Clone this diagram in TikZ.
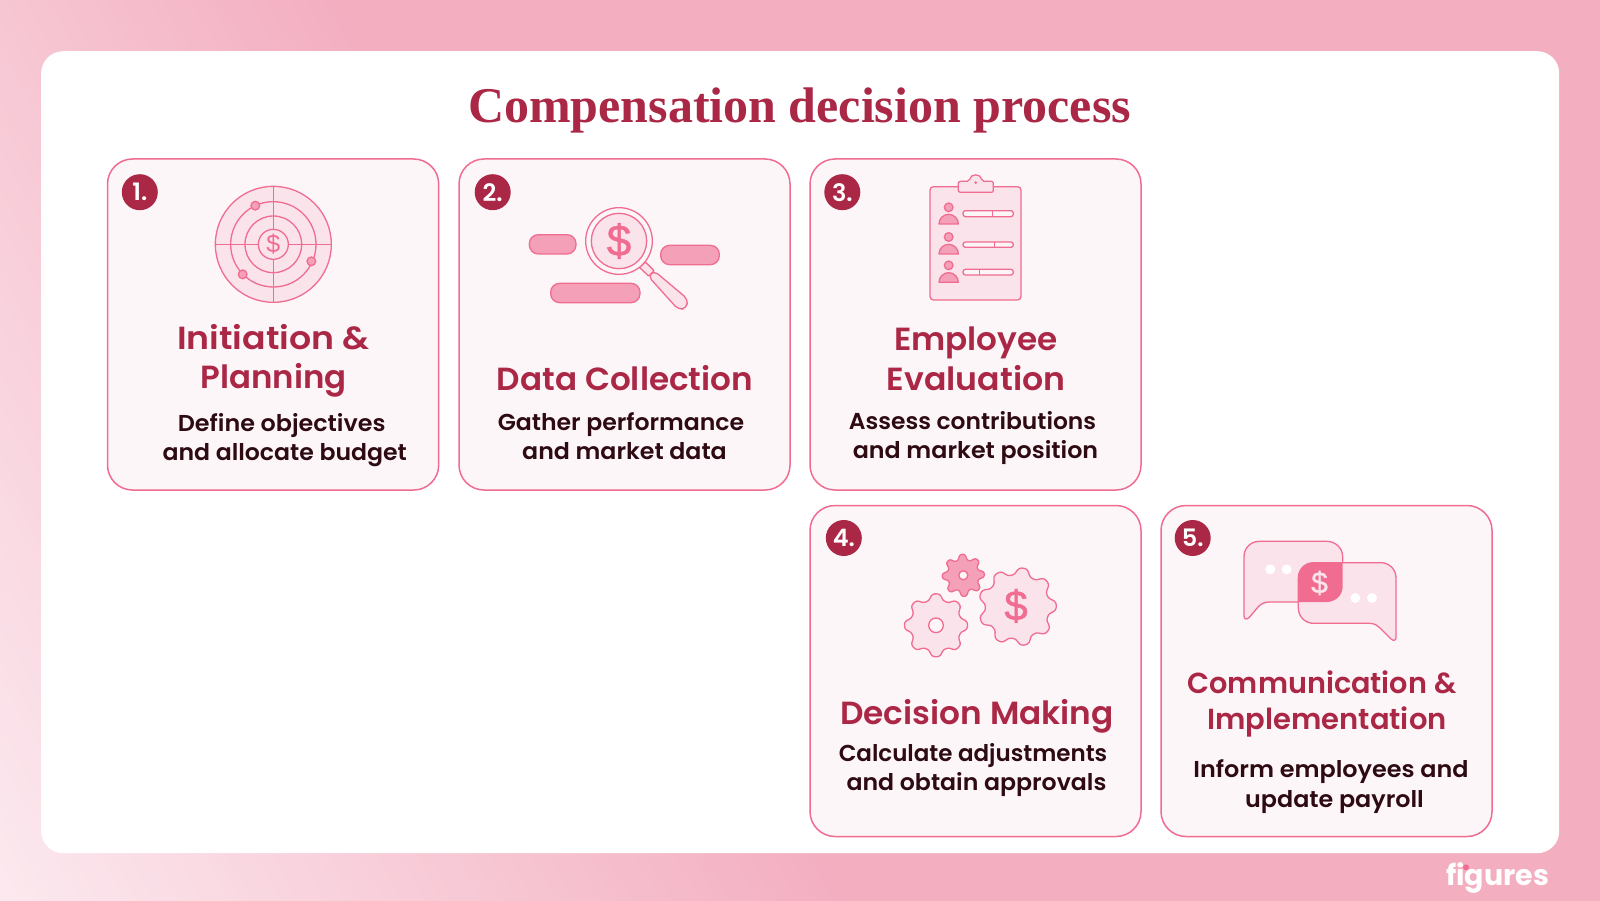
\documentclass[tikz,border=0pt]{standalone}
\usepackage{graphicx}
\usepackage{fontspec}
\setmainfont{Poppins SemiBold}
\newfontfamily\popb{Poppins}[BoldFont={Poppins Bold}]
\newfontfamily\serifb{Liberation Serif}
\newfontfamily\dollar{Liberation Sans}[FakeBold=1]
\newfontfamily\dollarthin{Liberation Sans}
\definecolor{cstroke}{HTML}{F06C90}
\definecolor{cfillA}{HTML}{FAE3EA}
\definecolor{cfillB}{HTML}{F3A0B8}
\definecolor{ccard}{HTML}{FDF6F9}
\definecolor{cred}{HTML}{AB2746}
\definecolor{cdark}{HTML}{2E0A12}
\definecolor{bgA}{HTML}{F3AEC0}
\definecolor{bgB}{HTML}{FCE9EF}
\tikzset{
  x=1pt,y=-1pt,
  card/.style={draw=cstroke,fill=ccard,line width=1.5pt,rounded corners=25pt},
  ic/.style={draw=cstroke,line width=1.3pt,line join=round},
  badge/.style={circle,fill=cred,minimum size=36pt,inner sep=0pt,text=white,font=\fontsize{24}{24}\selectfont},
  ttl/.style={anchor=base,text=cred,inner sep=0pt,font=\fontsize{32}{32}\selectfont},
  dsc/.style={anchor=base,text=cdark,inner sep=0pt,font=\fontsize{23}{23}\selectfont},
  dol/.style={text=cstroke,inner sep=0pt},
}
\newcommand{\sx}[2]{\scalebox{#1}[1]{#2}}
\newcommand{\gear}[7]{% cx cy R A n phase style
  \draw[#7] plot[smooth cycle,samples=121,domain=0:357] ({#1+(#3+#4*tanh(1.4*cos(#5*\x+#6))/tanh(1.4))*cos(\x)},{#2+(#3+#4*tanh(1.4*cos(#5*\x+#6))/tanh(1.4))*sin(\x)});
}
\begin{document}
\begin{tikzpicture}
\useasboundingbox (0,0) rectangle (1600,901);
% background
\clip (0,0) rectangle (1600,901);
\fill[bgA] (0,0) rectangle (1600,901);
\begin{scope}[shift={(0,901)},rotate=29.5]
  \foreach \i in {147,146,...,0}{
    \pgfmathsetmacro{\pp}{100*(1-\i/148)}
    \pgfmathsetmacro{\tt}{5*(\i+1)}
    \fill[bgB!\pp!bgA] (-1500,-3000) rectangle (\tt,3000);
  }
\end{scope}
\node[name=panel,draw=none,fill=white,rounded corners=22pt,minimum width=1518pt,minimum height=802pt,anchor=north west,inner sep=0pt] at (41,51) {};
\node[name=title,anchor=base,inner sep=0pt,text=cred,font=\serifb\bfseries\fontsize{50}{50}\selectfont] at (799.5,123) {Compensation decision process};
% cards
\foreach \n/\a/\b/\c/\d in {c1/107.5/159/438.7/490,c2/459/159/790/490,c3/810/159/1141/490,c4/810/505.5/1141/836.5,c5/1161/505.5/1492/836.5}{
  \draw[card] (\a,\b) rectangle (\c,\d);
}
% badges
\node[badge] (b1) at (139.8,192.2) {1.};
\node[badge] (b2) at (492.7,192.2) {2.};
\node[badge] (b3) at (842.3,192.2) {3.};
\node[badge] (b4) at (843.8,538) {4.};
\node[badge] (b5) at (1192.7,538) {5.};
% icon 1
\begin{scope}[shift={(100,150)},scale=0.33333]
  \draw[ic,fill=cfillA] (520,283) circle[radius=174];
  \draw[ic] (520,283) circle[radius=128];
  \draw[ic] (520,283) circle[radius=85];
  \draw[ic,fill=cfillA] (520,283) circle[radius=45];
  \draw[ic] (346,283) -- (475,283) (565,283) -- (694,283) (520,109) -- (520,238) (520,328) -- (520,457);
  \draw[ic,fill=cfillB] (466,167) circle[radius=13] (634,334) circle[radius=13] (428,373) circle[radius=13];
\end{scope}
\node[dol,font=\dollarthin\fontsize{25}{25}\selectfont] (d1) at (273.3,244.5) {\$};
% icon 2
\begin{scope}[shift={(450,150)},scale=0.33333]
  \draw[ic,fill=cfillB,rounded corners=9pt] (238,254) rectangle (378,312);
  \draw[ic,fill=cfillB,rounded corners=9pt] (632,286) rectangle (808,344);
  \draw[ic,fill=cfillB,rounded corners=9pt] (302,400) rectangle (570,458);
  \draw[ic,fill=cfillA,rounded corners=5pt] (612,362) -- (714,448) -- (710,474) -- (686,480) -- (594,378) -- cycle;
  \draw[ic,fill=cfillA] (568,352) -- (586,336) -- (612,362) -- (596,378) -- cycle;
  \draw[ic,fill=ccard] (507,273) circle[radius=100];
  \draw[ic,fill=cfillA] (507,273) circle[radius=83];
\end{scope}
\node[dol,font=\dollar\fontsize{44}{44}\selectfont] (d2) at (619,241) {\$};
% icon 3
\begin{scope}[shift={(800,150)},scale=0.33333]
  \draw[ic,fill=cfillA,rounded corners=3.5pt] (390,110) rectangle (663,450);
  \draw[ic,fill=cfillA,rounded corners=2pt] (475,94) -- (508,94) .. controls (512,70) and (542,70) .. (546,94) -- (580,94) -- (580,127) -- (475,127) -- cycle;
  \fill[cstroke] (527,98) circle[radius=4.5];
  \foreach \hy/\by in {172/222,261/312,346/397}{
    \draw[ic,fill=cfillB] (446,\hy) circle[radius=13];
    \draw[ic,fill=cfillB] (417,\by) arc[start angle=180,end angle=360,radius=29] -- cycle;
  }
  \foreach \ya/\yb/\xd in {182/200/577,276/292/583,358/375/538}{
    \draw[ic,fill=ccard,rounded corners=2.5pt] (489,\ya) rectangle (640,\yb);
    \draw[ic] (\xd,\ya) -- (\xd,\yb);
  }
\end{scope}
% icon 4
\gear{963.3}{575.3}{18.4}{2.6}{8}{20}{ic,fill=cfillB}
\gear{936}{625.3}{28.5}{3}{8}{0}{ic,fill=cfillA}
\gear{1017.3}{606.7}{35.5}{3.5}{9}{10}{ic,fill=cfillA}
\draw[ic,fill=ccard] (963.3,575.3) circle[radius=4.5];
\draw[ic,fill=ccard] (936,625.3) circle[radius=7.3];
\node[dol,font=\dollar\fontsize{42}{42}\selectfont] (d4) at (1016,606) {\$};
% icon 5
\begin{scope}[shift={(1160,510)},scale=0.33333]
  \draw[ic,fill=cfillA] (252,140) .. controls (252,114) and (272,94) .. (298,94) -- (500,94) .. controls (526,94) and (548,114) .. (548,140) -- (548,230) .. controls (548,256) and (526,276) .. (500,276) -- (330,276) .. controls (312,276) and (303,282) .. (295,290) -- (268,322) .. controls (260,330) and (252,328) .. (252,318) -- cycle;
  \draw[ic,fill=cfillA] (415,204) .. controls (415,178) and (435,158) .. (461,158) -- (662,158) .. controls (688,158) and (708,178) .. (708,204) -- (708,382) .. controls (708,392) and (700,394) .. (692,386) -- (660,354) .. controls (652,346) and (643,340) .. (628,340) -- (461,340) .. controls (435,340) and (415,320) .. (415,294) -- cycle;
  \fill[cstroke] (461,158) -- (548,158) -- (548,230) .. controls (548,256) and (526,276) .. (500,276) -- (415,276) -- (415,204) .. controls (415,178) and (435,158) .. (461,158) -- cycle;
  \fill[white] (331,178) circle[radius=15] (380,178) circle[radius=15] (586,264) circle[radius=15] (636,264) circle[radius=15];
\end{scope}
\node[inner sep=0pt,text=cfillA,font=\dollar\fontsize{30}{30}\selectfont] (d5) at (1319.5,583) {\$};
% text
\node[ttl] (t1a) at (273.3,349) {\sx{1.086}{Initiation \&}};
\node[ttl] (t1b) at (273.8,388.3) {\sx{1.014}{Planning}};
\node[dsc] (s1a) at (281.7,431) {\sx{1.036}{Define objectives}};
\node[dsc] (s1b) at (284.7,460) {\sx{1.026}{and allocate budget}};
\node[ttl] (t2) at (625,390) {\sx{1.02}{Data Collection}};
\node[dsc] (s2a) at (621,430.6) {\sx{1.026}{Gather performance}};
\node[dsc] (s2b) at (624.5,459) {\sx{1.03}{and market data}};
\node[ttl] (t3a) at (976,350) {\sx{1.02}{Employee}};
\node[ttl] (t3b) at (976,390.5) {\sx{1.036}{Evaluation}};
\node[dsc] (s3a) at (972.5,429.6) {\sx{1.017}{Assess contributions}};
\node[dsc] (s3b) at (975.5,458) {\sx{1.034}{and market position}};
\node[ttl] (t4) at (977,724.5) {\sx{1.023}{Decision Making}};
\node[dsc] (s4a) at (973,761) {Calculate adjustments};
\node[dsc] (s4b) at (976.5,790) {\sx{1.028}{and obtain approvals}};
\node[ttl,font=\fontsize{29}{29}\selectfont] (t5a) at (1322,693.5) {\sx{0.99}{Communication \&}};
\node[ttl,font=\fontsize{29}{29}\selectfont] (t5b) at (1327,729.6) {Implementation};
\node[dsc] (s5a) at (1331,777.5) {\sx{1.039}{Inform employees and}};
\node[dsc] (s5b) at (1334.5,807) {\sx{1.036}{update payroll}};
% logo
\node[anchor=base,inner sep=0pt,text=white,font=\popb\bfseries\fontsize{28.5}{28.5}\selectfont] (logo) at (1497.5,885) {figures};
\fill[cstroke] (1466,867.3) circle[radius=3];
\end{tikzpicture}
\end{document}
